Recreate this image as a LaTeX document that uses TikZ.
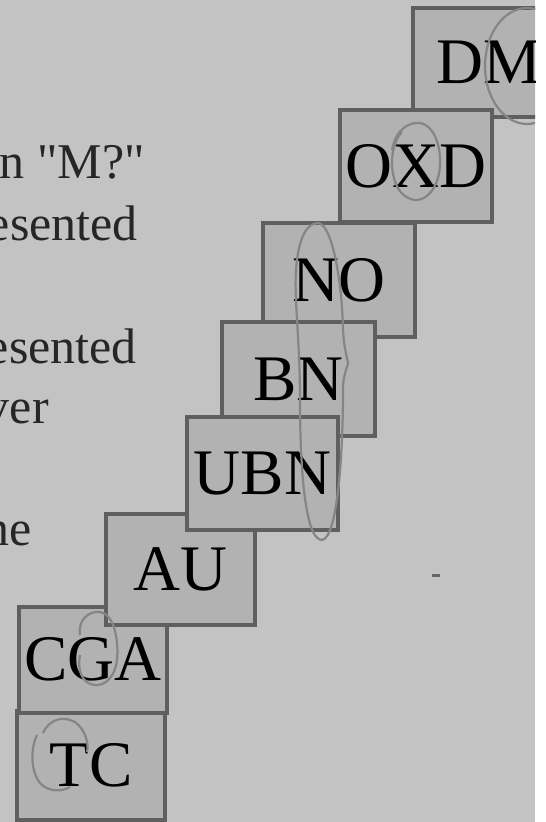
\documentclass[tikz,border=0pt]{standalone}
\usepackage{fontspec}
\setmainfont{Liberation Serif}
\definecolor{bggray}{HTML}{C3C3C3}
\definecolor{boxfill}{HTML}{B2B2B2}
\definecolor{boxline}{HTML}{5F5F5F}
\definecolor{penline}{HTML}{858585}
\begin{document}
\begin{tikzpicture}[x=1pt,y=-1pt,
  card/.style={draw=boxline, fill=boxfill, line width=4pt, inner sep=0pt,
    font=\fontsize{65}{65}\selectfont, text=black},
  pen/.style={draw=penline, line width=2.2pt},
  sidetext/.style={anchor=base east, inner sep=0pt,
    font=\fontsize{50}{50}\selectfont, text=black!85}]
\useasboundingbox (0,0) rectangle (546,822);
\fill[white] (0,0) rectangle (546,822);
\begin{scope}
\clip (0,0) rectangle (535,822);
\fill[bggray] (0,0) rectangle (535,822);
% boxes (drawing order matters for overlaps)
\node[card, minimum width=152pt, minimum height=109pt] (dm)  at (489,62.5) {DM};
\node[card, minimum width=152pt, minimum height=112pt] (oxd) at (416,166) {OXD};
\node[card, minimum width=152pt, minimum height=114pt] (no)  at (339,280) {NO};
\node[card, minimum width=153pt, minimum height=114pt] (bn)  at (298.5,379) {BN};
\node[card, minimum width=148pt, minimum height=109pt] (tc)  at (91,765.5) {TC};
\node[card, minimum width=148pt, minimum height=106pt] (cga) at (93,659.5) {CGA};
\node[card, minimum width=149pt, minimum height=111pt] (au)  at (180.5,569.5) {AU};
\node[card, minimum width=151pt, minimum height=113pt] (ubn) at (262.5,473.5) {UBN};
% hand-drawn rings
\draw[pen] (527,66) ellipse [x radius=42, y radius=58];
\draw[pen] (392,150) .. controls (396,128) and (410,122) .. (420,123)
  .. controls (436,126) and (441,150) .. (440,165)
  .. controls (439,186) and (428,200) .. (416,200)
  .. controls (400,199) and (392,182) .. (392,162)
  .. controls (392,150) and (396,138) .. (402,132);
\draw[pen] (318,223) .. controls (332,224) and (342,280) .. (343,330)
  .. controls (344,350) and (348,360) .. (348,364)
  .. controls (345,372) and (343,380) .. (343,390)
  .. controls (343,450) and (338,538) .. (322,540)
  .. controls (304,540) and (300,460) .. (300,400)
  .. controls (300,340) and (294,300) .. (296,270)
  .. controls (298,240) and (306,223) .. (318,223);
\draw[pen] (80,635) .. controls (78,620) and (88,611) .. (100,612)
  .. controls (114,614) and (119,640) .. (117,660)
  .. controls (115,676) and (106,686) .. (95,685)
  .. controls (82,684) and (77,670) .. (80,655);
\draw[pen] (43,733) .. controls (50,718) and (64,716) .. (75,722)
  .. controls (86,730) and (89,745) .. (87,752);
\draw[pen] (37,735) .. controls (30,750) and (31,772) .. (40,783)
  .. controls (48,792) and (62,792) .. (70,787);
% stray mark
\draw[line width=3pt, draw=black!60] (432,575) -- (440,575);
\end{scope}
% side text, cut by the left edge as in the reference
\node[sidetext] (t1) at (145,178) {n \textquotedbl M?\textquotedbl};
\node[sidetext] (t2) at (138,240) {esented};
\node[sidetext] (t3) at (137,363) {esented};
\node[sidetext] (t4) at (49,423) {ver};
\node[sidetext] (t5) at (32,545) {ne};
\end{tikzpicture}
\end{document}
